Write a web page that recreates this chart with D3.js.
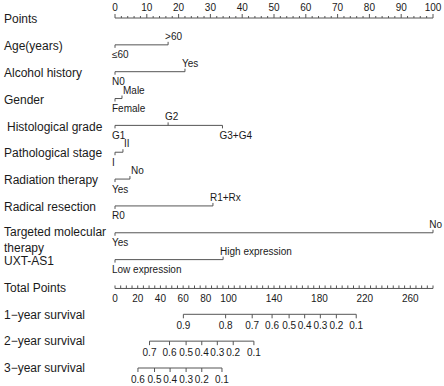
<!DOCTYPE html>
<html>
<head>
<meta charset="utf-8">
<script src="https://d3js.org/d3.v7.min.js"></script>
<style>
  body { margin: 0; background: #fff; }
  text { font-family: "Liberation Sans", Arial, sans-serif; fill: #1a1a1a; }
</style>
</head>
<body>
<div id="chart"></div>
<script>
// predictors, their levels and the points of each level
var variables = ["Age(years)", "Alcohol history", "Gender", "Histological grade", "Pathological stage",
  "Radiation therapy", "Radical resection", "Targeted molecular therapy", "UXT-AS1"];
var levelLabels = [["≤60", ">60"], ["N0", "Yes"], ["Female", "Male"], ["G1", "G2", "G3+G4"], ["I", "II"],
  ["Yes", "No"], ["R0", "R1+Rx"], ["Yes", "No"], ["Low expression", "High expression"]];
var levelPoints = [[0, 16.7], [0, 22], [0, 2.2], [0, 16.7, 33.8], [0, 2.5],
  [0, 4.7], [0, 30.8], [0, 100], [0, 34]];

// axes
var pointsTicks = [0, 10, 20, 30, 40, 50, 60, 70, 80, 90, 100];
var totalTicks = [0, 20, 40, 60, 80, 100, 140, 180, 220, 260];

// survival probabilities and the total points where they sit
var survivalNames = ["1−year survival", "2−year survival", "3−year survival"];
var survivalProbs = [
  [0.9, 0.8, 0.7, 0.6, 0.5, 0.4, 0.3, 0.2, 0.1],
  [0.7, 0.6, 0.5, 0.4, 0.3, 0.2, 0.1],
  [0.6, 0.5, 0.4, 0.3, 0.2, 0.1]
];
var survivalPoints = [
  [60.2, 97.4, 120.8, 138.3, 153.3, 167, 180.8, 194.9, 212.4],
  [30.4, 48, 62.6, 76.4, 90.1, 104.1, 122.3],
  [20.2, 34.8, 48.5, 62.6, 76.4, 94.2]
];

var W = 444, H = 386;
var lineColor = "#555";

var svg = d3.select("#chart").append("svg")
  .attr("width", W).attr("height", H);
svg.append("rect").attr("width", W).attr("height", H).attr("fill", "#fff");

var rows = ["Points"].concat(variables, ["Total Points"], survivalNames);
var y = d3.scalePoint().domain(rows).range([18, 367]);
var xPts = d3.scaleLinear().domain([0, 100]).range([115, 433]);
var xTot = d3.scaleLinear().domain([0, 280]).range([115, 433]);

// row names
rows.forEach(function(r) {
  var t = svg.append("text")
    .attr("x", r == "Histological grade" ? 7 : 4)
    .attr("y", y(r) + 1)
    .attr("dy", "0.35em")
    .attr("font-size", "12px");
  if (r == "Targeted molecular therapy") {
    t.attr("y", y(r) - 1).text("Targeted molecular");
    svg.append("text").attr("x", 4).attr("y", y(r) + 15).attr("dy", "0.35em")
      .attr("font-size", "12px").text("therapy");
  } else {
    t.text(r);
  }
});

// Points axis
var gp = svg.append("g");
gp.append("line").attr("x1", xPts(0)).attr("x2", xPts(100))
  .attr("y1", y("Points")).attr("y2", y("Points")).attr("stroke", lineColor);
gp.selectAll("line.minor").data(d3.range(0, 101, 2)).enter().append("line")
  .attr("x1", function(d) { return xPts(d); }).attr("x2", function(d) { return xPts(d); })
  .attr("y1", y("Points"))
  .attr("y2", function(d) { return y("Points") - (d % 10 == 0 ? 4 : 2); })
  .attr("stroke", lineColor);
gp.selectAll("text").data(pointsTicks).enter().append("text")
  .attr("x", function(d) { return xPts(d); }).attr("y", y("Points") - 11)
  .attr("dy", "0.35em").attr("text-anchor", "middle").attr("font-size", "10px")
  .text(function(d) { return d; });

// predictor rows
variables.forEach(function(v, i) {
  var yy = y(v);
  var pts = levelPoints[i];
  var g = svg.append("g");
  g.append("line").attr("x1", xPts(d3.min(pts))).attr("x2", xPts(d3.max(pts)))
    .attr("y1", yy).attr("y2", yy).attr("stroke", lineColor);
  pts.forEach(function(p, j) {
    var above = j % 2 == 1;
    g.append("line").attr("x1", xPts(p)).attr("x2", xPts(p))
      .attr("y1", yy).attr("y2", above ? yy - 3 : yy + 3).attr("stroke", lineColor);
    var x0 = xPts(p) + (above && p < 5 ? 1 : -3);
    var t = g.append("text")
      .attr("x", x0)
      .attr("y", above ? yy - 8.5 : yy + 10)
      .attr("dy", "0.35em").attr("font-size", "10px")
      .text(levelLabels[i][j]);
    var w = t.node().getComputedTextLength();
    if (x0 + w > W - 2) t.attr("x", W - 2 - w);
  });
});

// Total Points axis
var yt = y("Total Points") + 2;
var gt = svg.append("g");
gt.append("line").attr("x1", xTot(0)).attr("x2", xTot(280))
  .attr("y1", yt).attr("y2", yt).attr("stroke", lineColor);
gt.selectAll("line.minor").data(d3.range(0, 281, 5)).enter().append("line")
  .attr("x1", function(d) { return xTot(d); }).attr("x2", function(d) { return xTot(d); })
  .attr("y1", yt).attr("y2", yt - 3)
  .attr("stroke", lineColor);
gt.selectAll("text").data(totalTicks).enter().append("text")
  .attr("x", function(d) { return xTot(d); }).attr("y", yt + 10)
  .attr("dy", "0.35em").attr("text-anchor", "middle").attr("font-size", "10px")
  .text(function(d) { return d; });

// survival axes
survivalNames.forEach(function(s, i) {
  var yy = y(s) + 1;
  var pts = survivalPoints[i];
  var g = svg.append("g");
  g.append("line").attr("x1", xTot(d3.min(pts))).attr("x2", xTot(d3.max(pts)))
    .attr("y1", yy).attr("y2", yy).attr("stroke", lineColor);
  g.selectAll("line.tick").data(pts).enter().append("line")
    .attr("x1", function(d) { return xTot(d); }).attr("x2", function(d) { return xTot(d); })
    .attr("y1", yy).attr("y2", yy + 4).attr("stroke", lineColor);
  g.selectAll("text").data(survivalProbs[i]).enter().append("text")
    .attr("x", function(d, j) { return xTot(pts[j]); }).attr("y", yy + 11)
    .attr("dy", "0.35em").attr("text-anchor", "middle").attr("font-size", "10px")
    .text(function(d) { return d; });
});
</script>
</body>
</html>
